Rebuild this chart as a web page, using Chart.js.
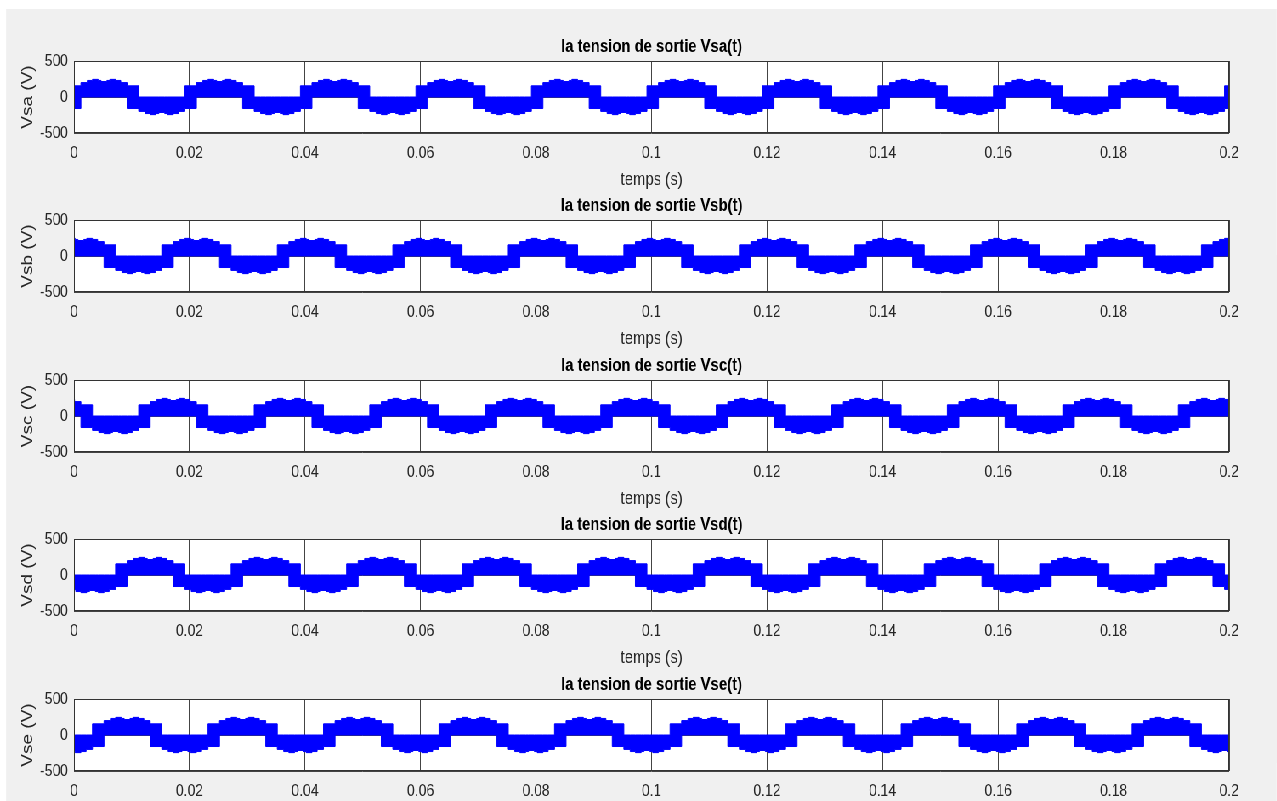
<!DOCTYPE html>
<html>
<head>
<meta charset="utf-8">
<title>Tensions de sortie</title>
<script src="https://cdn.jsdelivr.net/npm/chart.js@4.4.1/dist/chart.umd.min.js"></script>
<style>
  html, body { margin: 0; padding: 0; background: #fff; overflow: hidden; }
  /* figure is laid out wide, then squeezed horizontally */
  #figure { position: absolute; left: 0; top: 0; width: 1502px; height: 801px; transform: scaleX(0.85); transform-origin: 0 0; }
  #figure .bg { position: absolute; left: 7px; top: 9px; width: 1495px; height: 792px; background: #f0f0f0; }
  #figure canvas { position: absolute; left: 0; }
</style>
</head>
<body>
<div id="figure"><div class="bg"></div></div>
<script>
// phases of the inverter output
const phaseNames = ['Vsa', 'Vsb', 'Vsc', 'Vsd', 'Vse'];
// start (s) of the positive plateau for each phase
const plateauStart = [0.0012, 0.0172, 0.0132, 0.0092, 0.0052];
const period = 0.02;

// one period of the switching band, times relative to the plateau start
const bandTime  = [0, 0.0011, 0.002, 0.003, 0.0035, 0.0045, 0.005, 0.006, 0.0069, 0.008,
                   0.010, 0.0111, 0.012, 0.013, 0.0135, 0.0145, 0.015, 0.016, 0.0169, 0.018];
const bandUpper = [200, 230, 245, 230, 215, 230, 245, 230, 200, 155,
                   0, 0, 0, 0, 0, 0, 0, 0, 0, 155];
const bandLower = [0, 0, 0, 0, 0, 0, 0, 0, 0, -160,
                   -200, -230, -245, -230, -215, -230, -245, -230, -200, -160];

// axes
const tMin = 0, tMax = 0.2, tStep = 0.02;
const vMin = -500, vMax = 500, vStep = 500;

const CANVAS_W = 1502, CANVAS_H = 154;
const firstPlotTop = 60.5, rowStep = 159.5, titleBox = 24;

const tickFont = { family: 'Liberation Sans, Arial, sans-serif', size: 16.5 };
const labelFont = { family: 'Liberation Sans, Arial, sans-serif', size: 17.5 };
const yLabelFont = { family: 'Liberation Sans, Arial, sans-serif', size: 19 };
const titleFont = { family: 'Liberation Sans, Arial, sans-serif', size: 17.5, weight: 'bold' };

// white plot area + box around it
const axesBox = {
  id: 'axesBox',
  beforeDraw(chart) {
    const a = chart.chartArea, ctx = chart.ctx;
    ctx.save();
    ctx.fillStyle = '#ffffff';
    ctx.fillRect(a.left, a.top, a.right - a.left, a.bottom - a.top);
    ctx.restore();
  },
  afterDraw(chart) {
    const a = chart.chartArea, ctx = chart.ctx;
    ctx.save();
    ctx.strokeStyle = '#333333';
    ctx.lineWidth = 1;
    ctx.strokeRect(Math.round(a.left) + 0.5, Math.round(a.top) + 0.5,
                   Math.round(a.right - a.left) - 1, Math.round(a.bottom - a.top) - 1);
    ctx.restore();
  }
};

// repeat the band over the whole time window
function buildEdge(start, values) {
  const pts = [];
  for (let k = -1; k <= 10; k++) {
    for (let j = 0; j < bandTime.length; j++) {
      pts.push({ x: start + k * period + bandTime[j], y: values[j] });
    }
  }
  return pts;
}

function makeChart(idx) {
  const name = phaseNames[idx];
  const canvas = document.createElement('canvas');
  canvas.width = CANVAS_W;
  canvas.height = CANVAS_H;
  canvas.style.width = CANVAS_W + 'px';
  canvas.style.height = CANVAS_H + 'px';
  canvas.style.top = (firstPlotTop + idx * rowStep - titleBox) + 'px';
  document.getElementById('figure').appendChild(canvas);

  return new Chart(canvas.getContext('2d'), {
    type: 'line',
    data: {
      datasets: [{
        data: buildEdge(plateauStart[idx], bandLower),
        borderColor: '#0000ff',
        borderWidth: 1,
        pointRadius: 0,
        stepped: true,
        fill: false
      }, {
        data: buildEdge(plateauStart[idx], bandUpper),
        borderColor: '#0000ff',
        backgroundColor: '#0000ff',
        borderWidth: 1,
        pointRadius: 0,
        stepped: true,
        fill: '-1'
      }]
    },
    options: {
      responsive: false,
      animation: false,
      events: [],
      layout: { padding: { left: 0, right: 56, top: 0, bottom: 0 } },
      plugins: {
        legend: { display: false },
        tooltip: { enabled: false },
        title: {
          display: true,
          text: 'la tension de sortie ' + name + '(t)',
          color: '#000000',
          font: titleFont,
          fullSize: false,
          padding: { top: 0, bottom: 3 }
        }
      },
      scales: {
        x: {
          type: 'linear',
          min: tMin,
          max: tMax,
          afterFit: function (scale) { scale.height = 58; },
          ticks: {
            stepSize: tStep,
            autoSkip: false,
            maxRotation: 0,
            padding: 10.5,
            color: '#262626',
            font: tickFont,
            callback: v => String(+v.toFixed(3))
          },
          grid: { color: '#444444', lineWidth: 1, drawTicks: false },
          border: { display: false },
          title: { display: true, text: 'temps (s)', color: '#262626', font: labelFont, padding: { top: 0, bottom: 0 } }
        },
        y: {
          min: vMin,
          max: vMax,
          afterFit: function (scale) { scale.width = 87; },
          ticks: {
            stepSize: vStep,
            padding: 7,
            color: '#262626',
            font: tickFont,
            callback: v => String(v)
          },
          grid: { color: '#444444', lineWidth: 1, drawTicks: false },
          border: { display: false },
          title: { display: true, text: name + ' (V)', color: '#262626', font: yLabelFont, padding: { top: 21.5, bottom: 0 } }
        }
      }
    },
    plugins: [axesBox]
  });
}

for (let i = 0; i < phaseNames.length; i++) {
  makeChart(i);
}
</script>
</body>
</html>
